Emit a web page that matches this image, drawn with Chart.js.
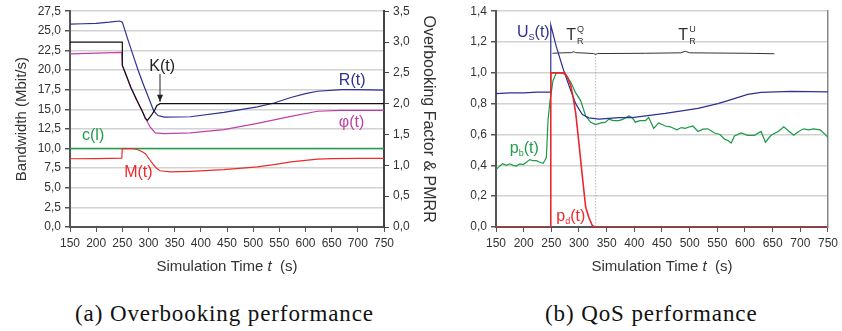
<!DOCTYPE html>
<html>
<head>
<meta charset="utf-8">
<script src="https://cdn.jsdelivr.net/npm/chart.js@4.4.1/dist/chart.umd.min.js"></script>
<style>
  body { margin: 0; background: #fff; width: 842px; height: 331px; overflow: hidden; position: relative; }
  canvas { position: absolute; top: 0; }
  #left { left: 0; }
  #right { left: 445px; }
  .cap { position: absolute; top: 304px; font-family: "Liberation Serif", "DejaVu Serif", serif; font-size: 23px; letter-spacing: 0.9px; line-height: 20px; color: #111; white-space: nowrap; }
</style>
</head>
<body>
<canvas id="left" width="445" height="285"></canvas>
<canvas id="right" width="397" height="285"></canvas>
<div class="cap" style="left:75px">(a) Overbooking performance</div>
<div class="cap" style="left:545px">(b) QoS performance</div>
<script>
// ---- tick labels
const timeTicks = [150, 200, 250, 300, 350, 400, 450, 500, 550, 600, 650, 700, 750];
const bandwidthTicks = [0, 2.5, 5, 7.5, 10, 12.5, 15, 17.5, 20, 22.5, 25, 27.5];
const factorTicks = [0, 0.5, 1, 1.5, 2, 2.5, 3, 3.5];
const qosTicks = [0, 0.2, 0.4, 0.6, 0.8, 1.0, 1.2, 1.4];

// ---- (a) overbooking performance, Mbit/s
const rTime = [150, 175, 200, 225, 245, 250, 260, 270, 280, 290, 300, 310, 318, 330, 380, 444, 508, 540, 572, 600, 623, 668, 700, 750];
const rValue = [25.85, 25.9, 25.95, 26.1, 26.25, 26.1, 24.0, 22.0, 20.0, 18.2, 16.5, 14.8, 14.2, 14.0, 14.05, 14.6, 15.3, 15.8, 16.5, 17.0, 17.3, 17.5, 17.5, 17.45];
const phiTime = [150, 200, 249, 250, 258, 266, 278, 288, 294, 303, 313, 330, 380, 444, 508, 572, 623, 668, 750];
const phiValue = [22.05, 22.15, 22.25, 20.6, 19.2, 17.8, 16.1, 14.75, 13.9, 12.75, 12.0, 11.9, 12.0, 12.4, 13.2, 14.1, 14.75, 14.87, 14.87];
const mTime = [150, 200, 249, 250, 268, 280, 288, 294, 302, 310, 316, 322, 342, 380, 444, 508, 540, 572, 600, 623, 650, 700, 750];
const mValue = [8.7, 8.72, 8.78, 10.0, 10.0, 9.85, 9.6, 9.35, 8.6, 7.9, 7.45, 7.17, 7.02, 7.1, 7.3, 7.65, 7.95, 8.3, 8.5, 8.65, 8.72, 8.75, 8.75];
const cTime = [150, 750];
const cValue = [10, 10];
// overbooking factor (right axis)
const kTime = [150, 200, 250, 250, 258, 266, 278, 288, 294, 298, 306, 312, 316, 322, 400, 500, 600, 750];
const kValue = [3.0, 3.0, 3.0, 2.62, 2.45, 2.27, 2.05, 1.88, 1.76, 1.73, 1.82, 1.9, 1.97, 2.0, 2.0, 2.0, 2.0, 2.0];

// ---- (b) QoS performance
const usTime = [150, 175, 200, 225, 248, 249, 259, 271, 282, 294, 306, 318, 336, 372, 396, 456, 515, 551, 569, 605, 629, 683, 750];
const usValue = [0.865, 0.87, 0.87, 0.875, 0.875, 1.31, 1.17, 1.03, 0.916, 0.8, 0.73, 0.708, 0.7, 0.71, 0.71, 0.737, 0.77, 0.8, 0.82, 0.86, 0.873, 0.88, 0.877];
const pbTime = [150, 155, 162, 169, 175, 181, 187, 193, 199, 205, 211, 217, 223, 229, 235, 238, 241, 244, 247, 253, 259, 268, 276, 285, 294, 303, 312, 321, 330, 340, 348, 354, 362, 372, 380, 390, 396, 402, 410, 420, 426, 435, 444, 456, 465, 477, 485, 492, 500, 506, 515, 524, 533, 545, 555, 563, 570, 575, 581, 593, 605, 617, 629, 637, 647, 660, 670, 680, 688, 697, 706, 715, 724, 736, 748, 750];
const pbValue = [0.37, 0.39, 0.41, 0.4, 0.41, 0.4, 0.395, 0.41, 0.405, 0.42, 0.437, 0.43, 0.43, 0.42, 0.413, 0.43, 0.45, 0.69, 0.8, 0.95, 1.0, 1.0, 0.99, 0.94, 0.87, 0.82, 0.72, 0.68, 0.665, 0.675, 0.68, 0.7, 0.69, 0.69, 0.7, 0.72, 0.71, 0.68, 0.69, 0.69, 0.71, 0.64, 0.675, 0.655, 0.65, 0.63, 0.645, 0.64, 0.65, 0.655, 0.62, 0.635, 0.637, 0.61, 0.6, 0.57, 0.56, 0.545, 0.59, 0.61, 0.595, 0.595, 0.62, 0.55, 0.595, 0.62, 0.65, 0.62, 0.595, 0.62, 0.637, 0.63, 0.637, 0.63, 0.59, 0.58];
const pdTime = [150, 249, 249, 274, 279, 285, 290, 294, 300, 306, 312, 318, 324, 328, 750];
const pdValue = [0, 0, 1.0, 1.0, 0.97, 0.92, 0.83, 0.74, 0.54, 0.33, 0.13, 0.06, 0.01, 0, 0];
const braceTime = [252, 270, 286, 290, 294, 318, 326, 330, 334, 420, 484, 492, 500, 600, 653];
const braceValue = [1.127, 1.13, 1.131, 1.137, 1.131, 1.127, 1.125, 1.121, 1.125, 1.127, 1.13, 1.14, 1.13, 1.127, 1.124];
const markTime = [330, 330];
const markValue = [1.12, 0];

const FONT = 'Arial, "Liberation Sans", sans-serif';
const INK = '#333';

function pts(ts, vs) {
    return ts.map((t, i) => ({ x: t, y: vs[i] }));
}
function fmt(v) {
    return Number(v).toFixed(1).replace('.', ',');
}
function line(label, ts, vs, color, axis, extra) {
    return Object.assign({
        label: label, data: pts(ts, vs), borderColor: color, borderWidth: 1.2,
        pointRadius: 0, tension: 0, fill: false, yAxisID: axis || 'y'
    }, extra || {});
}
function setTicks(list) {
    return function (axis) { axis.ticks = list.map(v => ({ value: v })); };
}

function xScale() {
    return {
        type: 'linear', min: 150, max: 750,
        afterBuildTicks: setTicks(timeTicks),
        afterFit: s => { s.height = 58; },
        border: { display: true, color: '#555', width: 2 },
        grid: { display: true, drawOnChartArea: false, drawTicks: true, tickLength: 5, tickColor: '#555' },
        ticks: { font: { family: FONT, size: 12 }, color: INK, padding: 4, maxRotation: 0, autoSkip: false }
    };
}

// "Simulation Time t (s)" with italic t
const xTitle = {
    id: 'xTitle',
    afterDraw(chart) {
        const ctx = chart.ctx, a = chart.chartArea;
        const cx = (a.left + a.right) / 2, y = 267;
        const p1 = 'Simulation Time ', p2 = 't', p3 = '  (s)';
        ctx.save();
        ctx.fillStyle = INK;
        ctx.textBaseline = 'middle';
        ctx.textAlign = 'left';
        ctx.font = '15px ' + FONT;
        const w1 = ctx.measureText(p1).width, w3 = ctx.measureText(p3).width;
        ctx.font = 'italic 15px ' + FONT;
        const w2 = ctx.measureText(p2).width;
        let x = cx - (w1 + w2 + w3) / 2;
        ctx.font = '15px ' + FONT;
        ctx.fillText(p1, x, y);
        ctx.font = 'italic 15px ' + FONT;
        ctx.fillText(p2, x + w1, y);
        ctx.font = '15px ' + FONT;
        ctx.fillText(p3, x + w1 + w2, y);
        ctx.restore();
    }
};

function txt(ctx, s, x, y, color, size) {
    ctx.font = (size || 16) + 'px ' + FONT;
    ctx.fillStyle = color;
    ctx.textAlign = 'left';
    ctx.textBaseline = 'middle';
    ctx.fillText(s, x, y);
    return ctx.measureText(s).width;
}
function subLabel(ctx, x, y, main, sub, tail, color) {
    let w = txt(ctx, main, x, y, color, 16);
    let ws = txt(ctx, sub, x + w, y + 5, color, 9);
    txt(ctx, tail, x + w + ws, y, color, 16);
}
function tLabel(ctx, x, y, sup, sub, color) {
    let w = txt(ctx, 'T', x, y, color, 16);
    txt(ctx, sup, x + w + 1, y - 6, color, 9);
    txt(ctx, sub, x + w + 1, y + 6, color, 9);
}

const leftLabels = {
    id: 'leftLabels',
    afterDatasetsDraw(chart) {
        const ctx = chart.ctx, x = chart.scales.x, y = chart.scales.y;
        ctx.save();
        txt(ctx, 'K(t)', x.getPixelForValue(301.4), y.getPixelForValue(20.5), '#222');
        txt(ctx, 'R(t)', x.getPixelForValue(663.7), y.getPixelForValue(18.6), '#2d3192');
        txt(ctx, 'φ(t)', x.getPixelForValue(663.7), y.getPixelForValue(13.3), '#c33fa8');
        txt(ctx, 'c(l)', x.getPixelForValue(173), y.getPixelForValue(11.66), '#1f9e4a');
        txt(ctx, 'M(t)', x.getPixelForValue(253.5), y.getPixelForValue(6.97), '#ee2a2a');
        // arrow onto K(t)
        const ax = x.getPixelForValue(322), y0 = y.getPixelForValue(19.5), y1 = y.getPixelForValue(15.95);
        ctx.strokeStyle = '#222';
        ctx.lineWidth = 1;
        ctx.beginPath();
        ctx.moveTo(ax, y0);
        ctx.lineTo(ax, y1);
        ctx.stroke();
        ctx.fillStyle = '#222';
        ctx.beginPath();
        ctx.moveTo(ax, y1);
        ctx.lineTo(ax - 3, y1 - 7);
        ctx.lineTo(ax + 3, y1 - 7);
        ctx.closePath();
        ctx.fill();
        ctx.restore();
    }
};

const rightLabels = {
    id: 'rightLabels',
    afterDatasetsDraw(chart) {
        const ctx = chart.ctx, x = chart.scales.x, y = chart.scales.y;
        ctx.save();
        subLabel(ctx, x.getPixelForValue(188), y.getPixelForValue(1.26), 'U', 'S', '(t)', '#2d3192');
        subLabel(ctx, x.getPixelForValue(175), y.getPixelForValue(0.51), 'p', 'b', '(t)', '#1f9e4a');
        subLabel(ctx, x.getPixelForValue(259), y.getPixelForValue(0.07), 'p', 'd', '(t)', '#ee2a2a');
        tLabel(ctx, x.getPixelForValue(277), y.getPixelForValue(1.24), 'Q', 'R', '#333');
        tLabel(ctx, x.getPixelForValue(479.6), y.getPixelForValue(1.24), 'U', 'R', '#333');
        ctx.restore();
    }
};

const common = {
    responsive: false,
    animation: false,
    events: [],
    plugins: { legend: { display: false }, tooltip: { enabled: false } }
};

new Chart(document.getElementById('left'), {
    type: 'line',
    data: {
        datasets: [
            line('K(t)', kTime, kValue, '#111', 'y2'),
            line('R(t)', rTime, rValue, '#2d3192'),
            line('φ(t)', phiTime, phiValue, '#c33fa8'),
            line('M(t)', mTime, mValue, '#ee2a2a'),
            line('c(l)', cTime, cValue, '#1f9e4a', 'y', { borderWidth: 1.5 })
        ]
    },
    options: Object.assign({}, common, {
        layout: { padding: { top: 10, left: 0, right: 0, bottom: 0 } },
        scales: {
            x: xScale(),
            y: {
                position: 'left', min: 0, max: 27.5,
                afterBuildTicks: setTicks(bandwidthTicks),
                afterFit: s => { s.width = 70; },
                border: { display: true, color: '#555', width: 2 },
                grid: { color: '#d2d2d2', lineWidth: 1.5, drawTicks: true, tickLength: 5, tickColor: '#555' },
                ticks: { font: { family: FONT, size: 12 }, color: INK, padding: 4, callback: v => fmt(v) },
                title: { display: true, text: 'Bandwidth (Mbit/s)', color: INK, font: { family: FONT, size: 15 }, padding: { top: 13, bottom: 0 } }
            },
            y2: {
                position: 'right', min: 0, max: 3.5,
                afterBuildTicks: setTicks(factorTicks),
                afterFit: s => { s.width = 61; },
                border: { display: true, color: '#444', width: 2 },
                grid: { drawOnChartArea: false, drawTicks: true, tickLength: 5, tickColor: '#444' },
                ticks: { font: { family: FONT, size: 12 }, color: INK, padding: 4, callback: v => fmt(v) },
                title: { display: true, text: 'Overbooking Factor & PMRR', color: INK, font: { family: FONT, size: 16 }, padding: { top: 7, bottom: 0 } }
            }
        }
    }),
    plugins: [xTitle, leftLabels]
});

new Chart(document.getElementById('right'), {
    type: 'line',
    data: {
        datasets: [
            line('pd(t)', pdTime, pdValue, '#e8262b', 'y', { borderWidth: 1.6 }),
            line('Us(t)', usTime, usValue, '#2d3192'),
            line('pb(t)', pbTime, pbValue, '#1a9a48'),
            line('brace', braceTime, braceValue, '#333', 'y', { borderWidth: 1 }),
            line('mark', markTime, markValue, '#999', 'y', { borderWidth: 1, borderDash: [1, 2] })
        ]
    },
    options: Object.assign({}, common, {
        layout: { padding: { top: 10, left: 0, right: 11, bottom: 0 } },
        scales: {
            x: xScale(),
            y: {
                position: 'left', min: 0, max: 1.4,
                afterBuildTicks: setTicks(qosTicks),
                afterFit: s => { s.width = 51; },
                border: { display: true, color: '#555', width: 2 },
                grid: { color: '#d2d2d2', lineWidth: 1.5, drawTicks: true, tickLength: 5, tickColor: '#555' },
                ticks: { font: { family: FONT, size: 12 }, color: INK, padding: 4, callback: v => fmt(v) }
            },
            yr: {
                position: 'right', min: 0, max: 1.4,
                afterFit: s => { s.width = 0; },
                border: { display: true, color: '#888', width: 1.5 },
                grid: { display: false },
                ticks: { display: false }
            }
        }
    }),
    plugins: [xTitle, rightLabels]
});
</script>
</body>
</html>
